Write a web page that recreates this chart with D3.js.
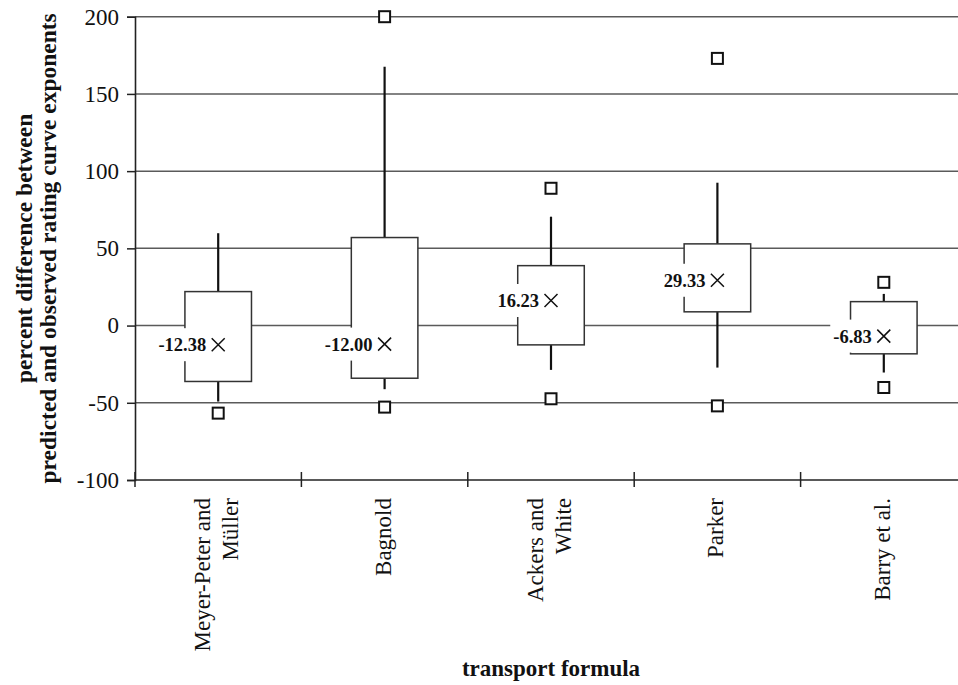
<!DOCTYPE html>
<html>
<head>
<meta charset="utf-8">
<script src="https://cdn.jsdelivr.net/npm/d3@7"></script>
<style>
  html, body { margin: 0; padding: 0; background: #fff; }
  svg { display: block; }
</style>
</head>
<body>
<svg id="chart" width="958" height="685"></svg>
<script>
// ---- data ----
const categories = ["Meyer-Peter and Müller", "Bagnold", "Ackers and White", "Parker", "Barry et al."];
const categoryLines = [["Meyer-Peter and", "Müller"], ["Bagnold"], ["Ackers and", "White"], ["Parker"], ["Barry et al."]];
const q1Values = [-36.2, -34.1, -12.5, 8.9, -18.3];
const q3Values = [22.0, 57.0, 38.8, 52.9, 15.5];
const whiskerLow = [-49.2, -41.2, -28.7, -27.2, -30.4];
const whiskerHigh = [59.8, 167.6, 70.5, 92.5, 20.5];
const outlierLow = [-56.7, -52.8, -47.4, -52.0, -40.1];
const outlierHigh = [null, 200.0, 88.9, 173.0, 28.0];
const meanValues = [-12.38, -12.00, 16.23, 29.33, -6.83];
const yTickValues = [-100, -50, 0, 50, 100, 150, 200];

const yTitleLines = ["percent difference between", "predicted and observed rating curve exponents"];
const xTitle = "transport formula";

// ---- layout ----
const svg = d3.select("#chart");
const plotL = 135, plotR = 967, plotT = 16.7, plotB = 480;
const serif = "'Liberation Serif', 'Times New Roman', Times, serif";

const x = d3.scaleBand().domain(categories).range([plotL, plotR]).padding(0);
const y = d3.scaleLinear().domain([-100, 200]).range([plotB, plotT]);
const boxW = x.bandwidth() * 0.4;
const cx = c => x(c) + x.bandwidth() / 2;

// gridlines
svg.append("g").selectAll("line").data(yTickValues.filter(v => v !== -100)).join("line")
  .attr("x1", plotL).attr("x2", plotR)
  .attr("y1", d => y(d)).attr("y2", d => y(d))
  .attr("stroke", "#5a5a5a").attr("stroke-width", 1.5);

// y axis
const yAxis = d3.axisLeft(y).tickValues(yTickValues).tickSize(8).tickPadding(8).tickFormat(d => String(d));
const gy = svg.append("g").attr("transform", `translate(${plotL},0)`).call(yAxis);
gy.select(".domain").attr("stroke", "#222").attr("stroke-width", 1.6);
gy.selectAll(".tick line").attr("stroke", "#222").attr("stroke-width", 1.5);
gy.selectAll(".tick text").attr("font-family", serif).attr("font-size", 23).attr("fill", "#111");

// x axis line + boundary ticks
svg.append("line").attr("x1", plotL).attr("x2", plotR).attr("y1", plotB).attr("y2", plotB)
  .attr("stroke", "#222").attr("stroke-width", 1.6);
const bounds = categories.map(c => x(c)).concat([x.range()[1]]);
svg.append("g").selectAll("line").data(bounds).join("line")
  .attr("x1", d => d).attr("x2", d => d).attr("y1", plotB - 8).attr("y2", plotB + 7)
  .attr("stroke", "#222").attr("stroke-width", 1.5);

// x tick labels (rotated)
categories.forEach((c, i) => {
  const lines = categoryLines[i];
  const t = svg.append("text")
    .attr("transform", `translate(${cx(c)},498) rotate(-90)`)
    .attr("text-anchor", "end")
    .attr("font-family", serif).attr("font-size", 23).attr("fill", "#111");
  if (lines.length === 1) {
    t.append("tspan").attr("x", 0).attr("y", 6).text(lines[0]);
  } else {
    t.append("tspan").attr("x", 0).attr("y", -8).text(lines[0]);
    t.append("tspan").attr("x", 0).attr("y", 20).text(lines[1]);
  }
});

// axis titles
svg.append("text").attr("x", (plotL + plotR) / 2).attr("y", 676)
  .attr("text-anchor", "middle").attr("font-family", serif).attr("font-weight", "bold")
  .attr("font-size", 23).attr("fill", "#111").text(xTitle);
const yt = svg.append("text")
  .attr("transform", `translate(0,${(plotT + plotB) / 2}) rotate(-90)`)
  .attr("text-anchor", "middle").attr("font-family", serif).attr("font-weight", "bold")
  .attr("font-size", 23.5).attr("fill", "#111");
yt.append("tspan").attr("x", 0).attr("y", 32).text(yTitleLines[0]);
yt.append("tspan").attr("x", 0).attr("y", 56).text(yTitleLines[1]);

// boxes & whiskers
const g = svg.append("g");
categories.forEach((c, i) => {
  const m = cx(c);
  // whiskers
  g.append("line").attr("x1", m).attr("x2", m).attr("y1", y(whiskerHigh[i])).attr("y2", y(q3Values[i]))
    .attr("stroke", "#111").attr("stroke-width", 2.2);
  g.append("line").attr("x1", m).attr("x2", m).attr("y1", y(q1Values[i])).attr("y2", y(whiskerLow[i]))
    .attr("stroke", "#111").attr("stroke-width", 2.2);
  // box
  g.append("rect").attr("x", m - boxW / 2).attr("y", y(q3Values[i]))
    .attr("width", boxW).attr("height", y(q1Values[i]) - y(q3Values[i]))
    .attr("fill", "#fff").attr("stroke", "#333").attr("stroke-width", 1.5);
  // outliers
  [outlierLow[i], outlierHigh[i]].forEach(v => {
    if (v === null) return;
    g.append("rect").attr("x", m - 5.5).attr("y", y(v) - 5.5).attr("width", 11).attr("height", 11)
      .attr("fill", "#fff").attr("stroke", "#111").attr("stroke-width", 2);
  });
  // mean label
  const my = y(meanValues[i]);
  const label = g.append("text").attr("x", m - 12).attr("y", my).attr("dy", "0.35em")
    .attr("text-anchor", "end").attr("font-family", serif).attr("font-weight", "bold")
    .attr("font-size", 18.5).attr("fill", "#111").text(meanValues[i].toFixed(2));
  const bb = label.node().getBBox();
  g.insert("rect", () => label.node())
    .attr("x", bb.x - 3).attr("y", my - 16.5).attr("width", (m - 8) - (bb.x - 3)).attr("height", 33)
    .attr("fill", "#fff");
  // X marker
  const s = 6.5;
  g.append("path").attr("d", `M${m - s},${my - s}L${m + s},${my + s}M${m - s},${my + s}L${m + s},${my - s}`)
    .attr("stroke", "#111").attr("stroke-width", 1.5).attr("fill", "none");
});
</script>
</body>
</html>
